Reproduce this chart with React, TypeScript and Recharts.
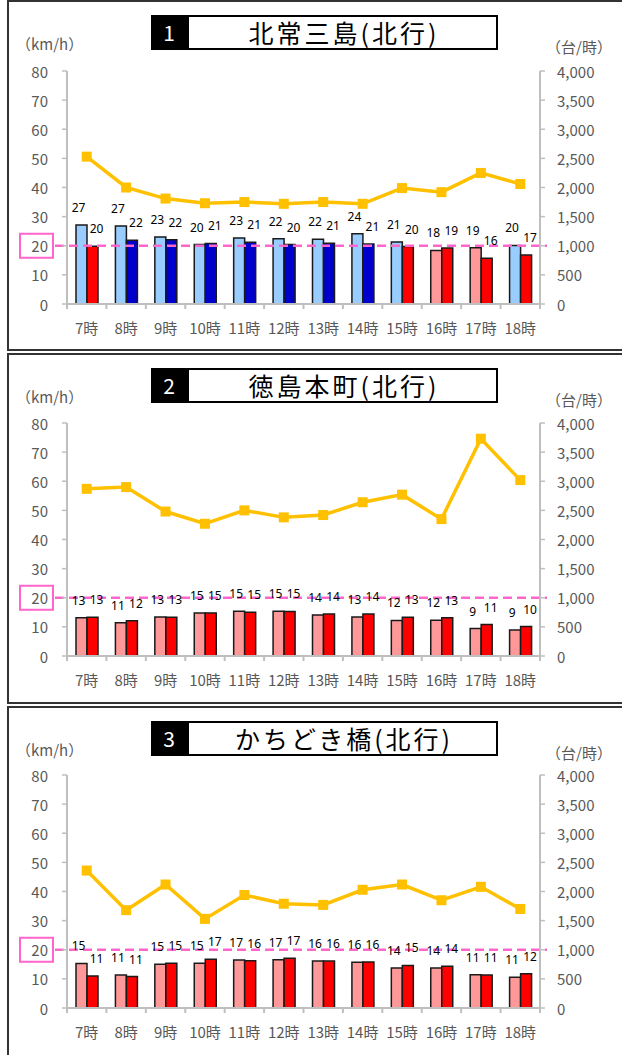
import React from "react";
import {
  ComposedChart,
  Bar,
  Line,
  XAxis,
  YAxis,
  ReferenceLine,
  LabelList,
  Cell,
} from "recharts";

const hours = ["7時", "8時", "9時", "10時", "11時", "12時", "13時", "14時", "15時", "16時", "17時", "18時"];
const speedTicks = [0, 10, 20, 30, 40, 50, 60, 70, 80];
const volumeTicks = [0, 500, 1000, 1500, 2000, 2500, 3000, 3500, 4000];

// 1 北常三島（北行）
const kitajosanjimaPrev = [27.1, 26.8, 23.0, 20.4, 22.7, 22.4, 22.2, 24.1, 21.3, 18.4, 19.3, 20.1];
const kitajosanjimaNow = [19.8, 21.9, 22.1, 20.8, 21.2, 20.4, 20.9, 20.6, 19.7, 19.2, 15.7, 16.8];
const kitajosanjimaVolume = [2530, 2000, 1810, 1730, 1750, 1720, 1750, 1720, 1990, 1920, 2250, 2060];

// 2 徳島本町（北行）
const tokushimahonchoPrev = [13.1, 11.4, 13.4, 14.8, 15.4, 15.4, 14.1, 13.4, 12.2, 12.3, 9.4, 8.9];
const tokushimahonchoNow = [13.3, 12.1, 13.3, 14.8, 15.0, 15.3, 14.4, 14.4, 13.3, 13.1, 10.8, 10.1];
const tokushimahonchoVolume = [2870, 2900, 2480, 2270, 2500, 2380, 2420, 2640, 2770, 2350, 3730, 3020];

// 3 かちどき橋（北行）
const kachidokiPrev = [15.3, 11.3, 15.0, 15.4, 16.5, 16.6, 16.1, 15.7, 13.7, 13.7, 11.4, 10.6];
const kachidokiNow = [11.0, 10.8, 15.4, 16.7, 16.2, 17.1, 16.1, 15.8, 14.6, 14.3, 11.3, 11.8];
const kachidokiVolume = [2360, 1680, 2120, 1530, 1940, 1790, 1770, 2030, 2120, 1850, 2080, 1700];

const panels = [
  { no: "1", title: "北常三島(北行)", prev: kitajosanjimaPrev, now: kitajosanjimaNow, volume: kitajosanjimaVolume },
  { no: "2", title: "徳島本町(北行)", prev: tokushimahonchoPrev, now: tokushimahonchoNow, volume: tokushimahonchoVolume },
  { no: "3", title: "かちどき橋(北行)", prev: kachidokiPrev, now: kachidokiNow, volume: kachidokiVolume },
];

const FONT = "'Noto Sans CJK JP', 'Noto Sans', sans-serif";
const CHART_W = 622;
const LEFT_W = 67;
const RIGHT_W = 82;
const PLOT_W = CHART_W - LEFT_W - RIGHT_W;
const AXIS_GRAY = "#BFBFBF";
const TEXT_GRAY = "#595959";
const PINK = "#FF66CC";

function SpeedTick(props: any) {
  const { x, y, payload } = props;
  return (
    <g>
      {payload.value === 20 && (
        <rect x={x - 28} y={y - 12} width={33} height={24} fill="none" stroke={PINK} strokeWidth={2} />
      )}
      <text x={x} y={y} textAnchor="end" dominantBaseline="central" fontSize={15} fill={TEXT_GRAY}>
        {payload.value}
      </text>
    </g>
  );
}

function VolumeTick(props: any) {
  const { x, y, payload } = props;
  return (
    <text x={x} y={y} textAnchor="start" dominantBaseline="central" fontSize={15} fill={TEXT_GRAY}>
      {payload.value.toLocaleString("en-US")}
    </text>
  );
}

function HourTick(props: any) {
  const { x, y, payload, index } = props;
  const band = PLOT_W / hours.length;
  return (
    <g>
      <line x1={x - band / 2} y1={y} x2={x - band / 2} y2={y + 5} stroke={AXIS_GRAY} strokeWidth={2} />
      {index === hours.length - 1 && (
        <line x1={x + band / 2} y1={y} x2={x + band / 2} y2={y + 5} stroke={AXIS_GRAY} strokeWidth={2} />
      )}
      <text x={x} y={y + 23} textAnchor="middle" dominantBaseline="central" fontSize={15} fill={TEXT_GRAY}>
        {payload.value}
      </text>
    </g>
  );
}

function SquareDot(props: any) {
  const { cx, cy, index } = props;
  if (cx == null || cy == null) return <g key={index} />;
  return <rect key={index} x={cx - 5} y={cy - 5} width={10} height={10} fill="#FFC000" />;
}

function LimitLine(props: any) {
  const { x1, y1, x2, y2 } = props;
  return (
    <line
      x1={x1 - 12}
      y1={y1}
      x2={x2 + 7}
      y2={y2}
      stroke={PINK}
      strokeWidth={2.5}
      strokeDasharray="9 5"
    />
  );
}

function BarValue(props: any) {
  const { x, y, width, value, shift } = props;
  return (
    <text
      x={x + width / 2 + shift}
      y={y - 13}
      textAnchor="middle"
      fontSize={12}
      fill="#000"
      fontFamily="'Noto Sans', sans-serif"
    >
      {Math.round(Number(value))}
    </text>
  );
}

function Panel({ index, panel }: { index: number; panel: (typeof panels)[number] }) {
  const data = hours.map((hour, i) => ({
    hour,
    prev: panel.prev[i],
    now: panel.now[i],
    volume: panel.volume[i],
  }));
  const top = index * 353;
  return (
    <>
      <div
        style={{
          position: "absolute",
          left: 7,
          top,
          width: 640,
          height: index === 2 ? 370 : 351,
          border: "2px solid #333",
          boxSizing: "border-box",
        }}
      />
      <div
        style={{
          position: "absolute",
          left: 151,
          top: top + 15,
          width: 36,
          height: 35,
          background: "#000",
          color: "#fff",
          fontSize: 21,
          lineHeight: "35px",
          textAlign: "center",
          fontFamily: FONT,
        }}
      >
        {panel.no}
      </div>
      <div
        style={{
          position: "absolute",
          left: 187,
          top: top + 15,
          width: 311,
          height: 35,
          border: "2px solid #000",
          boxSizing: "border-box",
          fontSize: 25,
          lineHeight: "31px",
          textAlign: "center",
          fontFamily: FONT,
          color: "#000",
          letterSpacing: 3,
          paddingLeft: 3,
        }}
      >
        {panel.title}
      </div>
      <div style={{ position: "absolute", left: 16, top: top + 33, fontSize: 15, color: TEXT_GRAY, fontFamily: FONT }}>
        （km/h）
      </div>
      <div style={{ position: "absolute", left: 546, top: top + 36, fontSize: 15, color: TEXT_GRAY, fontFamily: FONT }}>
        （台/時）
      </div>
      <div style={{ position: "absolute", left: 0, top: index * 352 + 1 }}>
        <ComposedChart
          width={CHART_W}
          height={340}
          data={data}
          margin={{ top: 70, right: 0, bottom: 0, left: 0 }}
          barGap={0}
          style={{ fontFamily: FONT }}
        >
          <XAxis
            dataKey="hour"
            height={37}
            interval={0}
            tickSize={0}
            tickMargin={0}
            tick={<HourTick />}
            axisLine={{ stroke: AXIS_GRAY, strokeWidth: 2 }}
          />
          <YAxis
            yAxisId="speed"
            width={LEFT_W}
            domain={[0, 80]}
            ticks={speedTicks}
            interval={0}
            tickSize={5}
            tickMargin={14}
            tick={<SpeedTick />}
            axisLine={{ stroke: AXIS_GRAY, strokeWidth: 2 }}
            tickLine={{ stroke: AXIS_GRAY, strokeWidth: 1.5 }}
          />
          <YAxis
            yAxisId="volume"
            orientation="right"
            width={RIGHT_W}
            domain={[0, 4000]}
            ticks={volumeTicks}
            interval={0}
            tickSize={5}
            tickMargin={12}
            tick={<VolumeTick />}
            axisLine={{ stroke: AXIS_GRAY, strokeWidth: 2 }}
            tickLine={{ stroke: AXIS_GRAY, strokeWidth: 1.5 }}
          />
          <Bar yAxisId="speed" dataKey="prev" barSize={11} stroke="#1a1a1a" strokeWidth={1.5} isAnimationActive={false}>
            {data.map((d, i) => (
              <Cell key={i} fill={d.prev >= 20 ? "#99CCFF" : "#FF9999"} />
            ))}
            <LabelList dataKey="prev" content={<BarValue shift={-3} />} />
          </Bar>
          <Bar yAxisId="speed" dataKey="now" barSize={11} stroke="#1a1a1a" strokeWidth={1.5} isAnimationActive={false}>
            {data.map((d, i) => (
              <Cell key={i} fill={d.now >= 20 ? "#0000CC" : "#FF0000"} />
            ))}
            <LabelList dataKey="now" content={<BarValue shift={4} />} />
          </Bar>
          <ReferenceLine yAxisId="speed" y={20} shape={<LimitLine />} />
          <Line
            yAxisId="volume"
            dataKey="volume"
            type="linear"
            stroke="#FFC000"
            strokeWidth={3.5}
            dot={<SquareDot />}
            activeDot={false}
            isAnimationActive={false}
          />
        </ComposedChart>
      </div>
    </>
  );
}

export default function App() {
  return (
    <div
      style={{
        position: "absolute",
        left: 0,
        top: 0,
        width: 622,
        height: 1055,
        overflow: "hidden",
        background: "#fff",
      }}
    >
      {panels.map((p, i) => (
        <Panel key={p.no} index={i} panel={p} />
      ))}
    </div>
  );
}
